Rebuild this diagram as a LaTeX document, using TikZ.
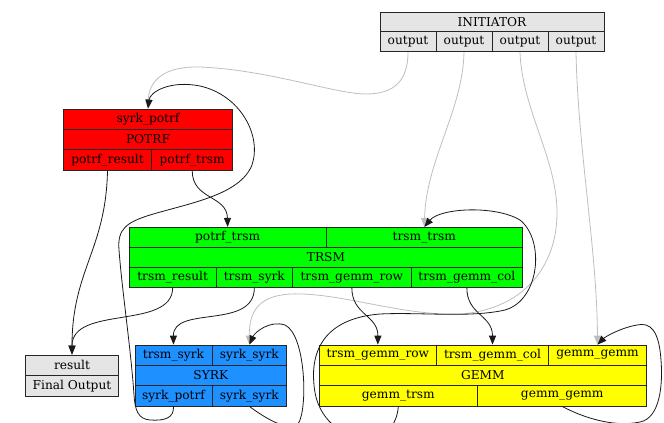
\documentclass[tikz,border=0pt]{standalone}
\usepackage{fontspec}
\setmainfont{DejaVu Serif}
\usetikzlibrary{arrows.meta}

\definecolor{boxgray}{HTML}{E5E5E5}
\definecolor{potrfred}{HTML}{FF0000}
\definecolor{trsmgreen}{HTML}{00FF00}
\definecolor{syrkblue}{HTML}{1E90FF}
\definecolor{gemmyellow}{HTML}{FFFF00}
\definecolor{initedge}{HTML}{BEBEBE}

\begin{document}
\begin{tikzpicture}[x=1pt,y=-1pt,
  cell/.style={draw=black!85, line width=0.8pt, inner sep=0pt,
    font=\fontsize{12.2}{14}\selectfont, text=black, minimum height=20.3pt},
  flow/.style={draw=black!90, line width=0.8pt,
    -{Triangle[length=9pt,width=7pt]}},
  initflow/.style={flow, draw=initedge}]

\useasboundingbox (0,0) rectangle (664,423);
\clip (0,0) rectangle (664,423);

% ---------------- INITIATOR ----------------
\node[cell, fill=boxgray, minimum width=224pt, minimum height=19.7pt] (i_name) at (492,21.85) {INITIATOR};
\node[cell, fill=boxgray, minimum width=56pt, minimum height=20pt] (i_o1) at (408,41.7) {output};
\node[cell, fill=boxgray, minimum width=56pt, minimum height=20pt] (i_o2) at (464,41.7) {output};
\node[cell, fill=boxgray, minimum width=56pt, minimum height=20pt] (i_o3) at (520,41.7) {output};
\node[cell, fill=boxgray, minimum width=56pt, minimum height=20pt] (i_o4) at (576,41.7) {output};

% ---------------- POTRF ----------------
\node[cell, fill=potrfred, minimum width=169.4pt] (p_in) at (148,119.17) {syrk\_potrf};
\node[cell, fill=potrfred, minimum width=169.4pt] (p_name) at (148,139.5) {POTRF};
\node[cell, fill=potrfred, minimum width=88.4pt] (p_res) at (107.5,159.83) {potrf\_result};
\node[cell, fill=potrfred, minimum width=81pt] (p_trsm) at (192.2,159.83) {potrf\_trsm};

% ---------------- TRSM ----------------
\node[cell, fill=trsmgreen, minimum width=196.7pt, minimum height=20.1pt] (t_in1) at (227.65,237.4) {potrf\_trsm};
\node[cell, fill=trsmgreen, minimum width=196.7pt, minimum height=20.1pt] (t_in2) at (424.35,237.4) {trsm\_trsm};
\node[cell, fill=trsmgreen, minimum width=393.4pt, minimum height=20.1pt] (t_name) at (326,257.55) {TRSM};
\node[cell, fill=trsmgreen, minimum width=86.7pt, minimum height=20.1pt] (t_res) at (172.65,277.65) {trsm\_result};
\node[cell, fill=trsmgreen, minimum width=76.7pt, minimum height=20.1pt] (t_syrk) at (254.35,277.65) {trsm\_syrk};
\node[cell, fill=trsmgreen, minimum width=118.3pt, minimum height=20.1pt] (t_row) at (351.85,277.65) {trsm\_gemm\_row};
\node[cell, fill=trsmgreen, minimum width=111.7pt, minimum height=20.1pt] (t_col) at (466.85,277.65) {trsm\_gemm\_col};

% ---------------- result ----------------
\node[cell, fill=boxgray, minimum width=93.4pt, minimum height=20.5pt] (r_name) at (72,365.25) {result};
\node[cell, fill=boxgray, minimum width=93.4pt, minimum height=20.5pt] (r_out) at (72,385.75) {Final Output};

% ---------------- SYRK ----------------
\node[cell, fill=syrkblue, minimum width=77pt] (s_in1) at (173.5,355.17) {trsm\_syrk};
\node[cell, fill=syrkblue, minimum width=74.7pt] (s_in2) at (249.35,355.17) {syrk\_syrk};
\node[cell, fill=syrkblue, minimum width=151.7pt] (s_name) at (210.85,375.5) {SYRK};
\node[cell, fill=syrkblue, minimum width=77pt] (s_out1) at (173.5,395.83) {syrk\_potrf};
\node[cell, fill=syrkblue, minimum width=74.7pt] (s_out2) at (249.35,395.83) {syrk\_syrk};

% ---------------- GEMM ----------------
\node[cell, fill=gemmyellow, minimum width=117.7pt] (g_in1) at (377.85,355.17) {trsm\_gemm\_row};
\node[cell, fill=gemmyellow, minimum width=111.6pt] (g_in2) at (492.5,355.17) {trsm\_gemm\_col};
\node[cell, fill=gemmyellow, minimum width=98.4pt] (g_in3) at (597.5,355.17) {gemm\_gemm};
\node[cell, fill=gemmyellow, minimum width=327.7pt] (g_name) at (482.85,375.5) {GEMM};
\node[cell, fill=gemmyellow, minimum width=158.7pt] (g_out1) at (398.35,395.83) {gemm\_trsm};
\node[cell, fill=gemmyellow, minimum width=169pt] (g_out2) at (562.2,395.83) {gemm\_gemm};

% ---------------- initiator outputs ----------------
\draw[initflow] (i_o1.south) .. controls (408,80) and (395,94) .. (366,94)
  .. controls (335,94) and (270,70) .. (200,67)
  .. controls (165,66) and (149,80) .. (p_in.north);
\draw[initflow] (i_o2.south) .. controls (463,110) and (426,160) .. (t_in2.north);
\draw[initflow] (i_o3.south) .. controls (522,110) and (558,160) .. (557,215)
  .. controls (556,270) and (520,310) .. (460,314)
  .. controls (400,316) and (340,292) .. (290,294)
  .. controls (260,296) and (249,310) .. (s_in2.north);
\draw[initflow] (i_o4.south) .. controls (578,150) and (597,250) .. (g_in3.north);

% ---------------- task dataflow ----------------
\draw[flow] (p_res.south) .. controls (106,250) and (72,270) .. (r_name.north);
\draw[flow] (p_trsm.south) .. controls (192,200) and (227,195) .. (t_in1.north);
\draw[flow] (t_res.south) .. controls (172,330) and (72,305) .. (r_name.north);
\draw[flow] (t_syrk.south) .. controls (254,330) and (173,305) .. (s_in1.north);
\draw[flow] (t_row.south) .. controls (352,315) and (378,315) .. (g_in1.north);
\draw[flow] (t_col.south) .. controls (467,315) and (492.5,315) .. (g_in2.north);

% SYRK -> POTRF feedback
\draw[flow] (s_out1.south) .. controls (174,418) and (165,421) .. (150,420)
  .. controls (138,419) and (135,410) .. (134,395)
  .. controls (131,350) and (122,290) .. (119,250)
  .. controls (117,228) and (128,222) .. (150,215)
  .. controls (190,203) and (240,195) .. (252,165)
  .. controls (262,135) and (240,95) .. (200,86)
  .. controls (170,80) and (150,92) .. (p_in.north);

% SYRK self loop
\draw[flow] (s_out2.south) .. controls (265,418) and (288,432) .. (298,424)
  .. controls (308,410) and (306,335) .. (285,325)
  .. controls (270,320) and (255,332) .. (s_in2.north);

% GEMM -> TRSM feedback
\draw[flow] (g_out1.south) .. controls (397,425) and (385,440) .. (365,438)
  .. controls (345,437) and (317,422) .. (314,385)
  .. controls (310,345) and (330,318) .. (380,314)
  .. controls (420,312) and (470,318) .. (505,310)
  .. controls (540,300) and (545,240) .. (520,220)
  .. controls (495,205) and (440,208) .. (t_in2.north);

% GEMM self loop
\draw[flow] (g_out2.south) .. controls (580,416) and (612,428) .. (640,422)
  .. controls (660,418) and (663,385) .. (661,360)
  .. controls (659,330) and (650,322) .. (637,325)
  .. controls (620,328) and (605,337) .. (g_in3.north);

\end{tikzpicture}
\end{document}
